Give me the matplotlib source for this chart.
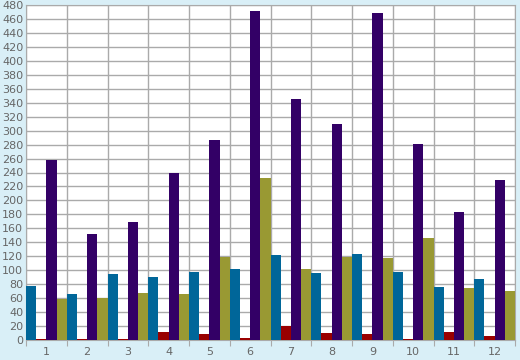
import numpy as np
import matplotlib.pyplot as plt

# Valores (12 grupos, 4 series)
groups = ["1", "2", "3", "4", "5", "6", "7", "8", "9", "10", "11", "12"]
serie_azul = [77, 66, 95, 90, 97, 102, 122, 96, 123, 97, 76, 87]
serie_roja = [2, 2, 2, 12, 9, 3, 20, 10, 9, 2, 12, 6]
serie_morada = [258, 152, 169, 240, 286, 471, 345, 309, 469, 281, 183, 229]
serie_oliva = [59, 60, 67, 66, 119, 232, 102, 119, 117, 146, 74, 70]

series = [serie_azul, serie_roja, serie_morada, serie_oliva]
colors = ["#006699", "#990000", "#330066", "#999933"]

bg = "#d9eff7"
grid_color = "#aaaaaa"
text_color = "#666666"

fig = plt.figure(figsize=(5.2, 3.6), dpi=100, facecolor=bg)
ax = fig.add_axes([26 / 520, 20 / 360, 489 / 520, 335 / 360])
ax.set_facecolor("white")

x = np.arange(len(groups))
w = 0.25
for i, (vals, c) in enumerate(zip(series, colors)):
    ax.bar(x - 0.5 + w * (i + 0.5), vals, width=w, color=c, zorder=3)

ax.set_xlim(-0.5, len(groups) - 0.5)
ax.set_ylim(0, 480)

# rejilla vertical en los límites de los grupos
for b in np.arange(-0.5, len(groups), 1.0):
    ax.axvline(b, color=grid_color, lw=1, zorder=1)
ax.set_yticks(np.arange(0, 481, 20))
ax.yaxis.grid(True, color=grid_color, lw=1, zorder=1)

ax.set_xticks(np.arange(-0.5, len(groups), 1.0))
ax.set_xticklabels([])
ax.set_xticks(x, minor=True)
ax.set_xticklabels(groups, minor=True)
ax.tick_params(axis="x", which="major", length=4, color=grid_color, direction="out")
ax.tick_params(axis="x", which="minor", length=0, pad=5, labelsize=8, labelcolor=text_color)
ax.tick_params(axis="y", length=0, pad=2, labelsize=8, labelcolor=text_color)

for s in ax.spines.values():
    s.set_color(grid_color)

fig.savefig("out.png", dpi=100, facecolor=bg)
